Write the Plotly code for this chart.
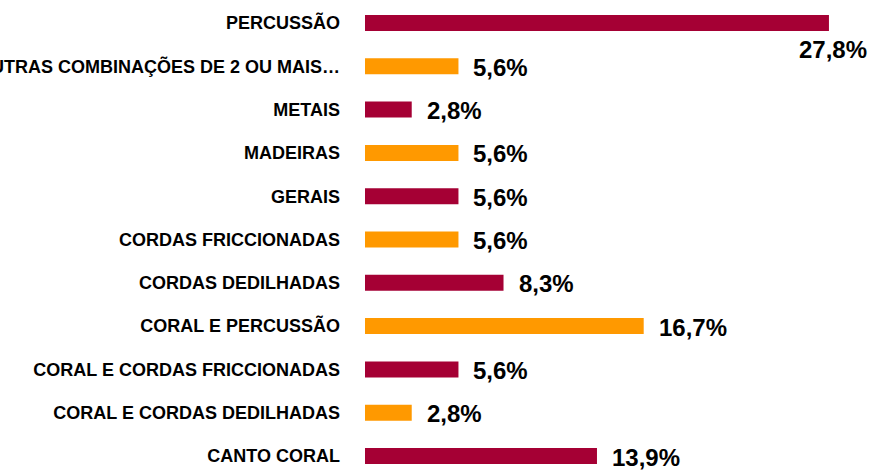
import plotly.graph_objects as go

categories = [
    "CANTO CORAL",
    "CORAL E CORDAS DEDILHADAS",
    "CORAL E CORDAS FRICCIONADAS",
    "CORAL E PERCUSSÃO",
    "CORDAS DEDILHADAS",
    "CORDAS FRICCIONADAS",
    "GERAIS",
    "MADEIRAS",
    "METAIS",
    "OUTRAS COMBINAÇÕES DE 2 OU MAIS…",
    "PERCUSSÃO",
]
values = [13.9, 2.8, 5.6, 16.7, 8.3, 5.6, 5.6, 5.6, 2.8, 5.6, 27.8]

CRIMSON = "#A50034"
ORANGE = "#FF9900"
colors = [CRIMSON if i % 2 == 0 else ORANGE for i in range(len(categories))]

FONT = "Liberation Sans, Arial, sans-serif"
X_MAX = 29.96

fig = go.Figure(
    go.Bar(
        x=values,
        y=list(range(len(categories))),
        orientation="h",
        width=0.37,
        marker=dict(color=colors, line=dict(width=0)),
        hoverinfo="skip",
    )
)

def fmt(v):
    return f"{v:.1f}".replace(".", ",") + "%"

annotations = []
for i, v in enumerate(values):
    txt = fmt(v)
    if v + 5.5 > X_MAX:
        annotations.append(dict(
            x=v, y=i, xref="x", yref="y", text=f"<b>{txt}</b>", showarrow=False,
            xanchor="center", yanchor="middle", xshift=4, yshift=-27,
            font=dict(family=FONT, size=24, color="#000000"),
        ))
    else:
        annotations.append(dict(
            x=v, y=i, xref="x", yref="y", text=f"<b>{txt}</b>", showarrow=False,
            xanchor="left", yanchor="middle", xshift=13, yshift=-1,
            font=dict(family=FONT, size=24, color="#000000"),
        ))

fig.update_layout(
    width=875,
    height=470,
    margin=dict(l=365, r=10, t=0, b=0),
    paper_bgcolor="white",
    plot_bgcolor="white",
    showlegend=False,
    annotations=annotations,
    xaxis=dict(range=[0, X_MAX], visible=False, fixedrange=True),
    yaxis=dict(
        range=[-0.323, 10.531],
        tickmode="array",
        tickvals=list(range(len(categories))),
        ticktext=[f"<b>{c}</b>" for c in categories],
        tickfont=dict(family=FONT, size=18, color="#000000"),
        ticks="",
        showline=False,
        showgrid=False,
        zeroline=False,
        automargin=False,
        ticklabelstandoff=24,
        fixedrange=True,
    ),
)

fig.write_html(
    "out.html",
    config={"displayModeBar": False},
    post_script="document.body.style.margin='0';document.body.style.overflow='hidden';",
)
